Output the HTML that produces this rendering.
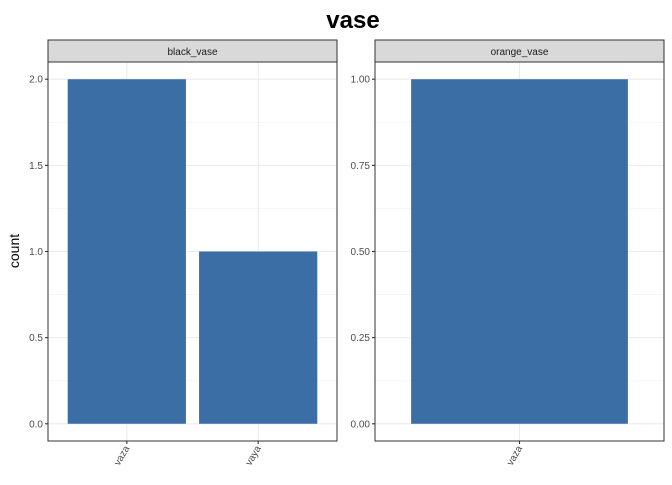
<!DOCTYPE html>
<html><head><meta charset="utf-8"><style>
body{margin:0;background:#fff;font-family:"Liberation Sans",Arial,sans-serif}
</style></head><body>
<svg id="chart" width="672" height="480" xmlns="http://www.w3.org/2000/svg">
<text x="353" y="28" text-anchor="middle" font-size="24" font-weight="bold" fill="#000">vase</text>
<text transform="translate(19,251) rotate(-90)" text-anchor="middle" font-size="14" fill="#000">count</text>
</svg>
<script>
const panelNames = ["black_vase", "orange_vase"];
const blackCats = ["vaza", "vaya"];
const blackCounts = [2, 1];
const orangeCats = ["vaza"];
const orangeCounts = [1];
const blackTicks = [0, 0.5, 1, 1.5, 2];
const blackTickLabels = ["0.0", "0.5", "1.0", "1.5", "2.0"];
const orangeTicks = [0, 0.25, 0.5, 0.75, 1];
const orangeTickLabels = ["0.00", "0.25", "0.50", "0.75", "1.00"];

const svgEl = document.getElementById('chart');
const NS = 'http://www.w3.org/2000/svg';
function mk(tag, attrs, parent) {
  const e = document.createElementNS(NS, tag);
  for (const k in attrs) e.setAttribute(k, attrs[k]);
  (parent || svgEl).appendChild(e);
  return e;
}
const pTop = 62, pBot = 441;
function panel(x0, x1, name, cats, vals, ticks, labels, key) {
  const g = mk('g', {});
  
  
  const maxV = Math.max(...vals);
  const yMin = -0.05 * maxV, yMax = maxV * 1.05;
  const y = v => pBot - (v - yMin) / (yMax - yMin) * (pBot - pTop);
  const n = cats.length;
  const xs = i => x0 + ((i + 1) - 0.4) / (n + 0.2) * (x1 - x0);
  const unit = (x1 - x0) / (n + 0.2);
  mk('rect', {x: x0, y: pTop, width: x1 - x0, height: pBot - pTop, fill: '#fff'}, g);
  for (let i = 0; i < ticks.length - 1; i++) {
    const m = (ticks[i] + ticks[i + 1]) / 2;
    const l = mk('line', {x1: x0, x2: x1, y1: y(m), y2: y(m), stroke: '#f2f2f2', 'stroke-width': 0.6}, g);
    
    
  }
  ticks.forEach((t, i) => {
    const l = mk('line', {x1: x0, x2: x1, y1: y(t), y2: y(t), stroke: '#ebebeb', 'stroke-width': 1.1}, g);
    
    
    mk('line', {x1: x0 - 3, x2: x0, y1: y(t), y2: y(t), stroke: '#333', 'stroke-width': 1.1}, g);
    const tx = mk('text', {x: x0 - 5, y: y(t) + 3.5, 'text-anchor': 'end', 'font-size': 10, fill: '#4d4d4d'}, g);
    tx.textContent = labels[i];
    
    
  });
  cats.forEach((c, i) => {
    const cx = xs(i);
    const l = mk('line', {x1: cx, x2: cx, y1: pTop, y2: pBot, stroke: '#ebebeb', 'stroke-width': 1.1}, g);
    
    
  });
  cats.forEach((c, i) => {
    const cx = xs(i), w = 0.9 * unit;
    const r = mk('rect', {x: cx - w / 2, y: y(vals[i]), width: w, height: y(0) - y(vals[i]), fill: '#3a6ea5'}, g);
    
    
    mk('line', {x1: cx, x2: cx, y1: pBot, y2: pBot + 3, stroke: '#333', 'stroke-width': 1.1}, g);
    const tx = mk('text', {transform: `translate(${cx + 3},${pBot + 7}) rotate(-60)`, 'text-anchor': 'end', 'font-size': 10, fill: '#4d4d4d'}, g);
    tx.textContent = c;
    
    
  });
  mk('rect', {x: x0, y: pTop, width: x1 - x0, height: pBot - pTop, fill: 'none', stroke: '#333', 'stroke-width': 1}, g);
  const s = mk('rect', {x: x0, y: 40, width: x1 - x0, height: 22, fill: '#d9d9d9', stroke: '#333', 'stroke-width': 1}, g);
  
  
  const st = mk('text', {x: (x0 + x1) / 2, y: 55, 'text-anchor': 'middle', 'font-size': 10, fill: '#1a1a1a'}, g);
  st.textContent = name;
  
  
}
panel(48, 337, panelNames[0], blackCats, blackCounts, blackTicks, blackTickLabels, 'black-vase');
panel(375, 664, panelNames[1], orangeCats, orangeCounts, orangeTicks, orangeTickLabels, 'orange-vase');
</script>
</body></html>
